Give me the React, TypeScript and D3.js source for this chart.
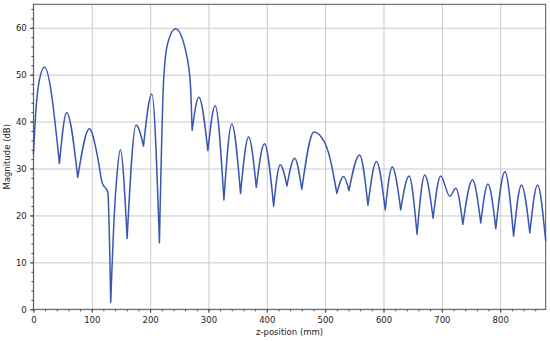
import { useEffect, useRef } from "react";
import * as d3 from "d3";

// z-position (mm) and magnitude (dB) (lobe peaks, notches, kinks)
const zPosition = [
  0, 3.5, 9, 19, 44.6, 57, 76, 96, 110, 118, 127.5, 132.5, 139, 143, 149, 160.6,
  176, 188.7, 203, 216, 223.5, 230.4, 243.6, 261.9, 269.3, 272, 283.6, 299,
  311.6, 326.5, 340, 355, 368.8, 382, 396, 411.7, 423, 434.5, 447.7, 460, 480.8,
  499, 507.7, 520, 531.7, 540.8, 559, 573.4, 587.8, 603, 615, 629.5, 643.8,
  657.5, 670.7, 685, 698, 713.6, 724, 736, 752.5, 766.7, 779, 792.5, 808, 823,
  836.5, 850.8, 864, 878,
];
const magnitude = [
  33, 41, 48, 51.6, 31.1, 41.9, 28.1, 38.5, 32.5, 26.9, 25, 1.5, 21, 28.3, 34,
  15.1, 39.3, 34.8, 45.9, 14.2, 49.6, 56.8, 59.8, 54.6, 47.5, 38.1, 45.2, 33.8,
  43.4, 23.3, 39.5, 24.7, 36.7, 26, 35.3, 22, 30.8, 26.3, 32.2, 25.6, 37.8,
  35.6, 32.5, 24.7, 28.3, 25.3, 32.9, 22.2, 31.5, 21.2, 30.3, 21.2, 28.4, 16,
  28.6, 19.4, 28.4, 24.1, 25.8, 18.1, 27.6, 18.4, 26.7, 17.2, 29.3, 15.6, 26.5,
  16.3, 26.5, 14.5,
];
const xTicks = [0, 100, 200, 300, 400, 500, 600, 700, 800];
const yTicks = [0, 10, 20, 30, 40, 50, 60];

export default function App() {
  const svgRef = useRef<SVGSVGElement | null>(null);

  useEffect(() => {
    const svg = d3.select(svgRef.current);
    const width = 550;
    const height = 341;
    const margin = { top: 4.3, right: 4.3, bottom: 31.7, left: 33.4 };
    const font = "DejaVu Sans, sans-serif";

    svg.selectAll("*").remove();
    svg.attr("width", width).attr("height", height);

    const x = d3.scaleLinear()
      .domain([0, 878])
      .range([margin.left, width - margin.right]);
    const y = d3.scaleLinear()
      .domain([0, 65])
      .range([height - margin.bottom, margin.top]);

    const x0 = x.range()[0], x1 = x.range()[1];
    const y0 = y.range()[0], y1 = y.range()[1];

    // grid
    svg.append("g")
      .attr("transform", `translate(0,${y0})`)
      .call(d3.axisBottom(x).tickValues(xTicks).tickSize(-(y0 - y1)).tickFormat(() => ""))
      .call((g) => g.select(".domain").remove())
      .selectAll("line").attr("stroke", "#c9c9c9").attr("stroke-width", 1);
    svg.append("g")
      .attr("transform", `translate(${x0},0)`)
      .call(d3.axisLeft(y).tickValues(yTicks).tickSize(-(x1 - x0)).tickFormat(() => ""))
      .call((g) => g.select(".domain").remove())
      .selectAll("line").attr("stroke", "#c9c9c9").attr("stroke-width", 1);

    // the curve: smooth lobes, sharp notches at the (deeper) minima
    const pts = zPosition.map((z, i) => [z, magnitude[i]] as [number, number]);
    const line = d3.line<[number, number]>()
      .x((d) => x(d[0]))
      .y((d) => y(d[1]))
      .curve(d3.curveMonotoneX);
    const cuts = [0];
    for (let i = 1; i < pts.length - 1; i++) {
      const v = pts[i][1];
      const lo = Math.min(pts[i - 1][1], pts[i + 1][1]);
      if (v < lo - 2.5) cuts.push(i);
    }
    cuts.push(pts.length - 1);
    const d = d3.pairs(cuts)
      .map(([a, b], k) => {
        const seg = line(pts.slice(a, b + 1)) || "";
        return k === 0 ? seg : seg.replace(/^M[^CLMZ]*/, "");
      })
      .join("");
    svg.append("path")
      .attr("d", d)
      .attr("fill", "none")
      .attr("stroke", "#3b56b0")
      .attr("stroke-width", 1.5)
      .attr("stroke-linejoin", "round");

    // minor ticks
    svg.append("g")
      .attr("transform", `translate(0,${y0})`)
      .call(d3.axisBottom(x).tickValues(d3.range(0, 879, 20)).tickSize(2).tickFormat(() => ""))
      .call((g) => g.select(".domain").remove())
      .selectAll("line").attr("stroke", "#444");
    svg.append("g")
      .attr("transform", `translate(${x0},0)`)
      .call(d3.axisLeft(y).tickValues(d3.range(0, 65, 2)).tickSize(2).tickFormat(() => ""))
      .call((g) => g.select(".domain").remove())
      .selectAll("line").attr("stroke", "#444");

    // major ticks + labels
    const xAxis = svg.append("g")
      .attr("transform", `translate(0,${y0})`)
      .call(d3.axisBottom(x).tickValues(xTicks).tickSize(3.5).tickPadding(3.9));
    xAxis.select(".domain").remove();
    xAxis.selectAll("line").attr("stroke", "#444");
    xAxis.selectAll("text").attr("font-family", font).attr("font-size", 8.5).attr("fill", "#222");

    const yAxis = svg.append("g")
      .attr("transform", `translate(${x0},0)`)
      .call(d3.axisLeft(y).tickValues(yTicks).tickSize(3.5).tickPadding(3.2));
    yAxis.select(".domain").remove();
    yAxis.selectAll("line").attr("stroke", "#444");
    yAxis.selectAll("text").attr("font-family", font).attr("font-size", 8.5).attr("fill", "#222");

    // frame
    svg.append("rect")
      .attr("x", x0)
      .attr("y", y1)
      .attr("width", x1 - x0)
      .attr("height", y0 - y1)
      .attr("fill", "none")
      .attr("stroke", "#555")
      .attr("stroke-width", 1);

    svg.append("text")
      .attr("x", (x0 + x1) / 2)
      .attr("y", 335)
      .attr("text-anchor", "middle")
      .attr("font-family", font)
      .attr("font-size", 8.5)
      .attr("fill", "#222")
      .text("z-position (mm)");

    svg.append("text")
      .attr("transform", `translate(7,${(y0 + y1) / 2}) rotate(-90)`)
      .attr("text-anchor", "middle")
      .attr("dominant-baseline", "central")
      .attr("font-family", font)
      .attr("font-size", 8.5)
      .attr("fill", "#222")
      .text("Magnitude (dB)");
  }, []);

  return (
    <div style={{ position: "absolute", left: 0, top: 0 }}>
      <svg ref={svgRef} style={{ display: "block", background: "#fff" }} />
    </div>
  );
}
